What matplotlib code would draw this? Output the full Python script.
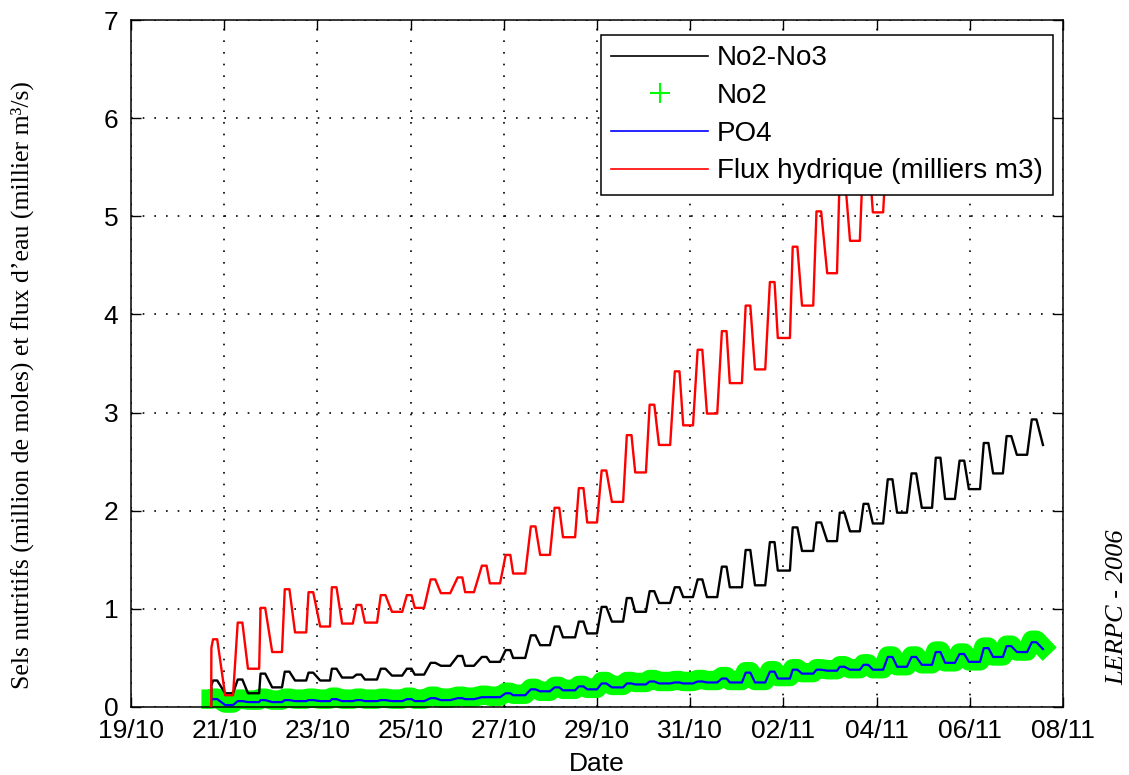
import numpy as np
import matplotlib
matplotlib.use('Agg')
import matplotlib.pyplot as plt
from matplotlib.lines import Line2D
from datetime import datetime, timedelta
import matplotlib.dates as mdates

# jours depuis le 19/10/2006 00:00
start_day = 1.72
end_day = 19.57
top_start = [1.76, 2.29, 2.78, 3.30, 3.81, 4.31, 4.84, 5.36, 5.92, 6.43, 7.01, 7.53,
             8.04, 8.58, 9.09, 9.61, 10.10, 10.64, 11.13, 11.67, 12.16, 12.68, 13.19,
             13.71, 14.20, 14.71, 15.21, 15.72, 16.24, 16.75, 17.27, 17.78, 18.30,
             18.79, 19.33]
top_end = [1.85, 2.39, 2.88, 3.40, 3.91, 4.41, 4.94, 5.46, 6.02, 6.53, 7.11, 7.63,
           8.14, 8.68, 9.19, 9.71, 10.20, 10.74, 11.23, 11.77, 12.26, 12.78, 13.29,
           13.81, 14.30, 14.81, 15.31, 15.82, 16.34, 16.85, 17.37, 17.88, 18.40,
           18.89, 19.43]
trough_start = [2.02, 2.51, 3.03, 3.52, 4.06, 4.53, 5.02, 5.60, 6.09, 6.65, 7.17, 7.70,
                8.20, 8.78, 9.27, 9.79, 10.32, 10.82, 11.33, 11.85, 12.36, 12.85, 13.39,
                13.88, 14.40, 14.94, 15.43, 15.92, 16.44, 16.97, 17.47, 17.98, 18.50,
                19.01]
trough_end = [2.19, 2.75, 3.24, 3.76, 4.27, 4.76, 5.28, 5.82, 6.29, 6.85, 7.36, 7.92,
              8.46, 8.99, 9.53, 10.00, 10.56, 11.05, 11.57, 12.06, 12.58, 13.11, 13.61,
              14.14, 14.64, 15.15, 15.64, 16.14, 16.65, 17.19, 17.68, 18.22, 18.71,
              19.23]

# Flux hydrique (milliers m3)
flux_head = [0.0, 0.60]
flux_peak = [0.69, 0.86, 1.01, 1.20, 1.17, 1.22, 1.04, 1.14, 1.14, 1.30, 1.32, 1.44,
             1.55, 1.84, 2.03, 2.23, 2.41, 2.77, 3.08, 3.42, 3.64, 3.83, 4.09, 4.33,
             4.69, 5.05, 5.45, 5.70, 5.90]
flux_trough = [0.12, 0.39, 0.56, 0.76, 0.82, 0.85, 0.86, 0.97, 1.01, 1.16, 1.17, 1.26,
               1.36, 1.55, 1.73, 1.88, 2.09, 2.39, 2.67, 2.87, 2.99, 3.30, 3.44, 3.76,
               4.09, 4.42, 4.75, 5.04]

# No2-No3
no3_head = [0.0, 0.22]
no3_peak = [0.27, 0.28, 0.34, 0.36, 0.35, 0.39, 0.33, 0.39, 0.39, 0.45, 0.52, 0.51,
            0.58, 0.73, 0.82, 0.87, 1.02, 1.11, 1.18, 1.22, 1.30, 1.43, 1.60, 1.68,
            1.83, 1.88, 1.98, 2.07, 2.32, 2.38, 2.54, 2.51, 2.69, 2.76, 2.93]
no3_trough = [0.14, 0.14, 0.20, 0.27, 0.27, 0.30, 0.28, 0.32, 0.33, 0.42, 0.42, 0.46,
              0.50, 0.63, 0.71, 0.75, 0.87, 0.97, 1.06, 1.12, 1.12, 1.22, 1.24, 1.39,
              1.59, 1.69, 1.79, 1.87, 1.98, 2.03, 2.12, 2.22, 2.38, 2.57]
no3_end = 2.67

# PO4
po4_head = [0.07, 0.07]
po4_peak = [0.08, 0.06, 0.07, 0.07, 0.07, 0.08, 0.07, 0.07, 0.08, 0.09, 0.09, 0.10,
            0.14, 0.18, 0.20, 0.21, 0.24, 0.24, 0.26, 0.25, 0.26, 0.29, 0.35, 0.36,
            0.38, 0.38, 0.41, 0.43, 0.51, 0.51, 0.56, 0.54, 0.60, 0.62, 0.66]
po4_trough = [0.02, 0.05, 0.05, 0.06, 0.06, 0.06, 0.06, 0.06, 0.06, 0.07, 0.08, 0.10,
              0.12, 0.16, 0.17, 0.18, 0.20, 0.23, 0.24, 0.24, 0.25, 0.25, 0.25, 0.29,
              0.34, 0.37, 0.38, 0.38, 0.41, 0.43, 0.45, 0.46, 0.51, 0.56]
po4_end = 0.59

# No2
no2_head = [0.08, 0.08]
no2_peak = [0.09, 0.08, 0.09, 0.09, 0.09, 0.10, 0.09, 0.09, 0.10, 0.11, 0.11, 0.12,
            0.15, 0.19, 0.21, 0.22, 0.26, 0.26, 0.28, 0.27, 0.28, 0.31, 0.36, 0.37,
            0.39, 0.39, 0.42, 0.44, 0.52, 0.52, 0.57, 0.55, 0.61, 0.63, 0.68]
no2_trough = [0.04, 0.07, 0.07, 0.08, 0.08, 0.08, 0.08, 0.08, 0.08, 0.09, 0.10, 0.11,
              0.13, 0.16, 0.18, 0.19, 0.22, 0.25, 0.26, 0.26, 0.27, 0.27, 0.27, 0.31,
              0.35, 0.38, 0.39, 0.39, 0.42, 0.44, 0.46, 0.47, 0.52, 0.57]
no2_end = 0.61

tick_labels = ['19/10', '21/10', '23/10', '25/10', '27/10', '29/10', '31/10',
               '02/11', '04/11', '06/11', '08/11']

base = datetime(2006, 10, 19)


def build(head, peaks, troughs, end=None):
    # pic (palier) -> creux (palier) -> pic suivant
    days = [start_day, start_day + 0.005]
    vals = list(head)
    for i, p in enumerate(peaks):
        days += [top_start[i], top_end[i]]
        vals += [p, p]
        if i < len(troughs):
            days += [trough_start[i], trough_end[i]]
            vals += [troughs[i], troughs[i]]
    if end is not None:
        days.append(end_day)
        vals.append(end)
    t = [mdates.date2num(base + timedelta(days=d)) for d in days]
    return np.array(t), np.array(vals)


t_no3, v_no3 = build(no3_head, no3_peak, no3_trough, no3_end)
t_no2, v_no2 = build(no2_head, no2_peak, no2_trough, no2_end)
t_po4, v_po4 = build(po4_head, po4_peak, po4_trough, po4_end)
t_flux, v_flux = build(flux_head, flux_peak, flux_trough)

plt.rcParams['font.family'] = ['Liberation Sans', 'DejaVu Sans']
fig = plt.figure(figsize=(11.29, 7.75), dpi=100)
ax = fig.add_axes([131 / 1129, 68 / 775, 932 / 1129, 687 / 775])

ax.plot(t_no3, v_no3, color='black', lw=1.7, zorder=3)
ax.plot(t_no2, v_no2, color='#00ff00', lw=14, solid_capstyle='projecting',
        solid_joinstyle='round', clip_on=False, zorder=2)
ax.plot(t_po4, v_po4, color='#0000ff', lw=1.6, zorder=4)
ax.plot(t_flux, v_flux, color='#ff0000', lw=1.7, zorder=5)

ticks = [mdates.date2num(datetime.strptime(s + '/2006', '%d/%m/%Y')) for s in tick_labels]
ax.set_xlim(ticks[0], ticks[-1])
ax.set_ylim(0, 7)
ax.set_xticks(ticks, tick_labels)
ax.set_yticks(range(0, 8))

ax.grid(True, color='black', linestyle=(0, (1, 6)), linewidth=1.2)
ax.tick_params(direction='in', length=7, width=1, top=True, right=True,
               labelsize=19, pad=9)
for s in ax.spines.values():
    s.set_linewidth(1.1)

ax.set_xlabel('Date', fontsize=19, labelpad=6)

handles = [Line2D([], [], color='black', lw=1.2),
           Line2D([], [], color='#00ff00', marker='+', linestyle='None', markersize=14, mew=1.5),
           Line2D([], [], color='#0000ff', lw=1.2),
           Line2D([], [], color='#ff0000', lw=1.2)]
labels = ['No2-No3', 'No2', 'PO4', 'Flux hydrique (milliers m3)']
leg = ax.legend(handles, labels, loc='upper right', bbox_to_anchor=(0.989, 0.978),
                borderaxespad=0, fontsize=20, fancybox=False, framealpha=1,
                edgecolor='black', handlelength=3.5, handletextpad=0.3,
                labelspacing=0.42, borderpad=0.37)
leg.get_frame().set_linewidth(1.1)
leg.set_zorder(10)

fig.text(22 / 1129, 1 - 385 / 775,
         'Sels nutritifs (million de moles) et flux d\u2019eau (millier m\u00b3/s)',
         rotation=90, ha='center', va='center', fontsize=18.5,
         family=['Liberation Serif', 'DejaVu Serif'])
fig.text(1117 / 1129, 1 - 607 / 775, 'LERPC - 2006', rotation=90, ha='center',
         va='center', fontsize=19, style='italic',
         family=['Liberation Serif', 'DejaVu Serif'])

fig.savefig('out.png', dpi=100)
